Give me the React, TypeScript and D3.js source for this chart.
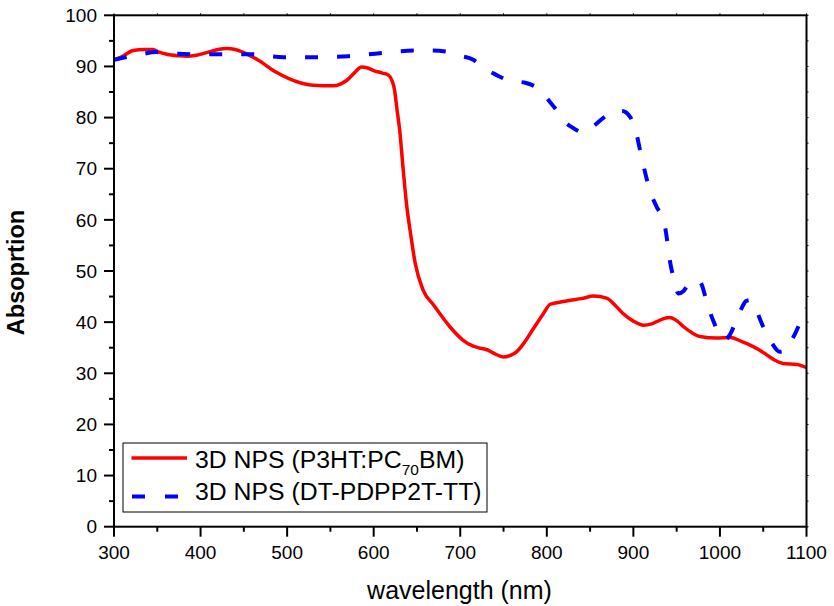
import * as d3 from 'd3';
import React from 'react';

// absorption spectra
const redNm = [300, 310, 322, 335, 345, 352, 361, 375, 384, 395, 407, 420, 430, 440, 450, 465, 488, 515, 530, 553, 562, 569, 578, 586, 593, 600, 610, 617, 621, 624, 627, 630, 634, 638, 642, 648, 657, 669, 688, 703, 715, 723, 731, 740, 750, 758, 765, 774, 784, 795, 804, 815, 827, 840, 854, 869, 880, 888, 900, 912, 920, 927, 935, 942, 950, 958, 967, 977, 996, 1012, 1024, 1035, 1045, 1054, 1064, 1073, 1089, 1100];
const redAbs = [91.3, 92.0, 93.1, 93.3, 93.3, 92.8, 92.4, 92.1, 92.0, 92.2, 92.7, 93.3, 93.5, 93.3, 92.7, 91.4, 88.8, 86.8, 86.3, 86.2, 86.6, 87.3, 88.8, 89.9, 89.7, 89.2, 88.7, 88.3, 87.3, 85.5, 81.5, 77.6, 70, 63, 58, 51.5, 46.3, 43.4, 39.1, 36.5, 35.3, 34.9, 34.6, 33.8, 33.2, 33.5, 34.2, 36.0, 38.6, 41.4, 43.5, 43.9, 44.3, 44.6, 45.1, 44.7, 43.1, 41.7, 40.2, 39.4, 39.6, 40.1, 40.7, 40.9, 40.3, 39.1, 38.0, 37.2, 36.9, 37.0, 36.3, 35.5, 34.6, 33.6, 32.5, 31.9, 31.7, 31.1];

const blueNm = [300, 313, 326, 349, 361, 392, 426, 457, 496, 534, 571, 607, 646, 665, 684, 700, 715, 728, 740, 757, 775, 792, 803, 811, 819, 830, 842, 853, 865, 877, 887, 896, 903, 909, 919, 927, 935, 939, 942, 947, 952, 958, 964, 969, 974, 979, 985, 992, 1000, 1006, 1011, 1016, 1025, 1030, 1035, 1042, 1050, 1060, 1069, 1076, 1081, 1087, 1093, 1100];
const blueAbs = [91.3, 91.8, 92.2, 92.8, 92.6, 92.4, 92.4, 92.4, 91.8, 91.8, 92.0, 92.6, 93.1, 93.1, 92.9, 92.1, 91.3, 89.6, 88.5, 87.2, 86.8, 85.4, 83.2, 81.5, 79.5, 78.0, 77.1, 78.2, 79.9, 81.2, 81.3, 80.2, 77.2, 72.6, 65.8, 62.5, 60.0, 56, 52.2, 48.3, 45.6, 46.1, 47.5, 48.0, 48.2, 47.3, 43.8, 40.4, 37.5, 36.6, 37.4, 39.1, 42.7, 44.1, 44.3, 42.3, 39.1, 35.9, 34.2, 34.4, 35.9, 37.8, 40.1, 42.7];

const xMajor = [300, 400, 500, 600, 700, 800, 900, 1000, 1100];
const xMinor = [350, 450, 550, 650, 750, 850, 950, 1050];
const yMajor = [0, 10, 20, 30, 40, 50, 60, 70, 80, 90, 100];
const yMinor = [5, 15, 25, 35, 45, 55, 65, 75, 85, 95];

const legendLabels = ['3D NPS (DT-PDPP2T-TT)'];

const W = 834, H = 606;
const plot = { left: 114, right: 806.5, top: 15.3, bottom: 526.7 };
const font = '"Liberation Sans", Arial, Helvetica, sans-serif';

export default function App() {
  const x = d3.scaleLinear().domain([300, 1100]).range([plot.left, plot.right]);
  const y = d3.scaleLinear().domain([0, 100]).range([plot.bottom, plot.top]);

  const line = d3.line<[number, number]>()
    .x(d => x(d[0]))
    .y(d => y(d[1]))
    .curve(d3.curveMonotoneX);

  const red = line(redNm.map((n, i) => [n, redAbs[i]] as [number, number])) || '';
  const blue = line(blueNm.map((n, i) => [n, blueAbs[i]] as [number, number])) || '';

  return (
    <svg width={W} height={H} style={{ position: 'absolute', left: 0, top: 0, background: '#fff' }} fontFamily={font}>
      <defs>
        <clipPath id="plotClip">
          <rect x={plot.left} y={plot.top} width={plot.right - plot.left} height={plot.bottom - plot.top} />
        </clipPath>
      </defs>

      <g clipPath="url(#plotClip)">
        <path d={red} fill="none" stroke="#ff0000" strokeWidth={3.5} strokeLinejoin="round" />
        <path d={blue} fill="none" stroke="#0000ff" strokeWidth={4} strokeDasharray="13 19" />
      </g>

      {/* frame */}
      <rect x={plot.left} y={plot.top} width={plot.right - plot.left} height={plot.bottom - plot.top}
        fill="none" stroke="#000" strokeWidth={2} />

      {/* bottom axis */}
      {xMajor.map(v => (
        <g key={'xM' + v}>
          <line x1={x(v)} x2={x(v)} y1={plot.bottom} y2={plot.bottom + 10} stroke="#000" strokeWidth={2} />
          <line x1={x(v)} x2={x(v)} y1={plot.top} y2={plot.top - 2} stroke="#000" strokeWidth={1} />
          <text x={x(v)} y={559} textAnchor="middle" fontSize={19} fill="#000">{v}</text>
        </g>
      ))}
      {xMinor.map(v => (
        <g key={'xm' + v}>
          <line x1={x(v)} x2={x(v)} y1={plot.bottom} y2={plot.bottom + 5} stroke="#000" strokeWidth={2} />
          <line x1={x(v)} x2={x(v)} y1={plot.top} y2={plot.top - 2} stroke="#000" strokeWidth={1} />
        </g>
      ))}

      {/* left axis */}
      {yMajor.map(v => (
        <g key={'yM' + v}>
          <line x1={plot.left} x2={plot.left - 10} y1={y(v)} y2={y(v)} stroke="#000" strokeWidth={2} />
          <line x1={plot.right} x2={plot.right + 2} y1={y(v)} y2={y(v)} stroke="#000" strokeWidth={1} />
          <text x={97} y={y(v)} dy="0.35em" textAnchor="end" fontSize={19} fill="#000">{v}</text>
        </g>
      ))}
      {yMinor.map(v => (
        <g key={'ym' + v}>
          <line x1={plot.left} x2={plot.left - 5} y1={y(v)} y2={y(v)} stroke="#000" strokeWidth={2} />
          <line x1={plot.right} x2={plot.right + 2} y1={y(v)} y2={y(v)} stroke="#000" strokeWidth={1} />
        </g>
      ))}

      {/* axis titles */}
      <text x={459.5} y={599} textAnchor="middle" fontSize={25} fill="#000">wavelength (nm)</text>
      <text transform="translate(24,272.5) rotate(-90)" textAnchor="middle" fontSize={23.5} fontWeight="bold" fill="#000">Absoprtion</text>

      {/* legend */}
      <rect x={123} y={443} width={364} height={69} fill="#fff" stroke="#000" strokeWidth={1} />
      <line x1={131.5} x2={187} y1={458} y2={458} stroke="#ff0000" strokeWidth={3.5} />
      <text x={195} y={468} fontSize={24.8} fill="#000">
        3D NPS (P3HT:PC<tspan fontSize={15.5} dy={7}>70</tspan><tspan dy={-7}>BM)</tspan>
      </text>
      <line x1={132} x2={180} y1={496.5} y2={496.5} stroke="#0000ff" strokeWidth={4} strokeDasharray="13 20" />
      <text x={195} y={500} fontSize={24.8} fill="#000">{legendLabels[0]}</text>
    </svg>
  );
}
